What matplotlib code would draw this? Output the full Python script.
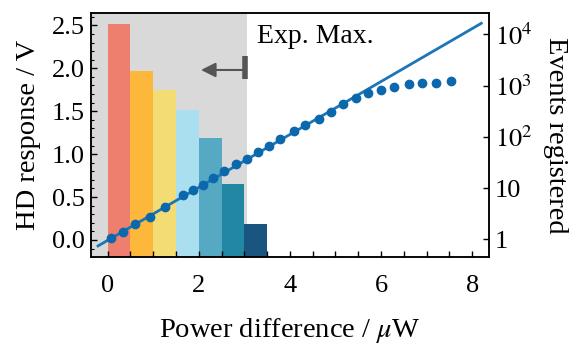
import numpy as np
import matplotlib
matplotlib.use('Agg')
import matplotlib.pyplot as plt
from matplotlib.ticker import MultipleLocator, FixedLocator, FuncFormatter, NullLocator

plt.rcParams.update({
    'font.family': 'serif',
    'font.serif': ['Liberation Serif', 'DejaVu Serif'],
    'mathtext.fontset': 'stix',
    'font.size': 19,
    'axes.linewidth': 1.1,
    'xtick.direction': 'in',
    'ytick.direction': 'in',
})

# histogram of HD response per power bin
bin_left = [0.0, 0.5, 1.0, 1.5, 2.0, 2.5, 3.0]
bin_width = 0.5
hd_response = [2.517, 1.966, 1.748, 1.515, 1.185, 0.653, 0.183]
bar_colors = ['#EE7F6F', '#FDB73A', '#F2DC73', '#A9DFEE', '#55A9C3', '#2187A3', '#1A5580']

# events registered vs power difference
power = [0.08, 0.33, 0.61, 0.94, 1.27, 1.65, 1.87, 2.09, 2.32, 2.56, 2.82, 3.05,
         3.29, 3.55, 3.79, 4.08, 4.34, 4.63, 4.91, 5.16, 5.45, 5.72, 6.01, 6.29,
         6.61, 6.89, 7.21, 7.53]
events = [1.05, 1.39, 2.02, 2.72, 4.33, 7.32, 8.96, 11.6, 15.9, 21.8, 29.0, 36.9,
          50.5, 66.1, 91.8, 130, 170, 226, 309, 436, 564, 716, 807, 950,
          1087, 1137, 1137, 1227]

# exponential fit (endpoints)
fit_x = [-0.21, 8.2]
fit_y = [0.74, 16400]

exp_max = 3.05

fig = plt.figure(figsize=(5.76, 3.45), dpi=100)
ax1 = fig.add_axes([0.1575, 0.256, 0.6915, 0.7054])

ax1.axvspan(-1, exp_max, color='#D9D9D9', lw=0, zorder=0)
ax1.bar(bin_left, np.array(hd_response) + 0.5, bottom=-0.5, width=bin_width,
        align='edge', color=bar_colors, lw=0, zorder=1)

ax1.plot([exp_max - 0.03, exp_max - 0.03], [1.87, 2.14], color='#555555', lw=4,
         solid_capstyle='butt', zorder=3)
ax1.annotate('', xy=(2.05, 1.98), xytext=(exp_max - 0.03, 1.98),
             arrowprops=dict(arrowstyle='-|>', color='#555555', lw=1.5,
                             mutation_scale=22, shrinkA=0, shrinkB=0), zorder=3)
ax1.text(3.27, 2.30, 'Exp. Max.', fontsize=20, ha='left', va='baseline')

ax1.set_xlim(-0.37, 8.37)
ax1.set_ylim(-0.195, 2.64)
ax1.xaxis.set_major_locator(MultipleLocator(2))
ax1.xaxis.set_minor_locator(MultipleLocator(0.5))
ax1.yaxis.set_major_locator(MultipleLocator(0.5))
ax1.yaxis.set_minor_locator(MultipleLocator(0.1))
ax1.yaxis.set_major_formatter(FuncFormatter(lambda v, p: f'{v:.1f}'))
ax1.tick_params(axis='x', which='both', length=4, width=1, pad=13)
ax1.tick_params(axis='y', which='major', length=4, width=1, pad=4)
ax1.tick_params(axis='y', which='minor', length=2.5, width=0.8)
ax1.set_xlabel(r'Power difference / $\mu$W', fontsize=20.5, labelpad=14)
ax1.set_ylabel('HD response / V', fontsize=20.5, labelpad=8)

ax2 = ax1.twinx()
ax2.set_yscale('log')
ax2.plot(fit_x, fit_y, color='#1B75B8', lw=2, zorder=2)
ax2.plot(power, events, 'o', color='#0B68AD', ms=6, zorder=3)
ax2.set_ylim(0.457, 25700)
ax2.yaxis.set_major_locator(FixedLocator([1, 10, 100, 1000, 10000]))
ax2.yaxis.set_minor_locator(NullLocator())
ax2.yaxis.set_major_formatter(FuncFormatter(
    lambda v, p: {1: '1', 10: '10'}.get(int(round(v)), r'$10^{%d}$' % round(np.log10(v)))))
ax2.tick_params(axis='y', which='major', length=4, width=1, pad=4)
ax2.set_ylabel('Events registered', fontsize=20.5, rotation=270, labelpad=26)

fig.savefig('out.png', dpi=100)
